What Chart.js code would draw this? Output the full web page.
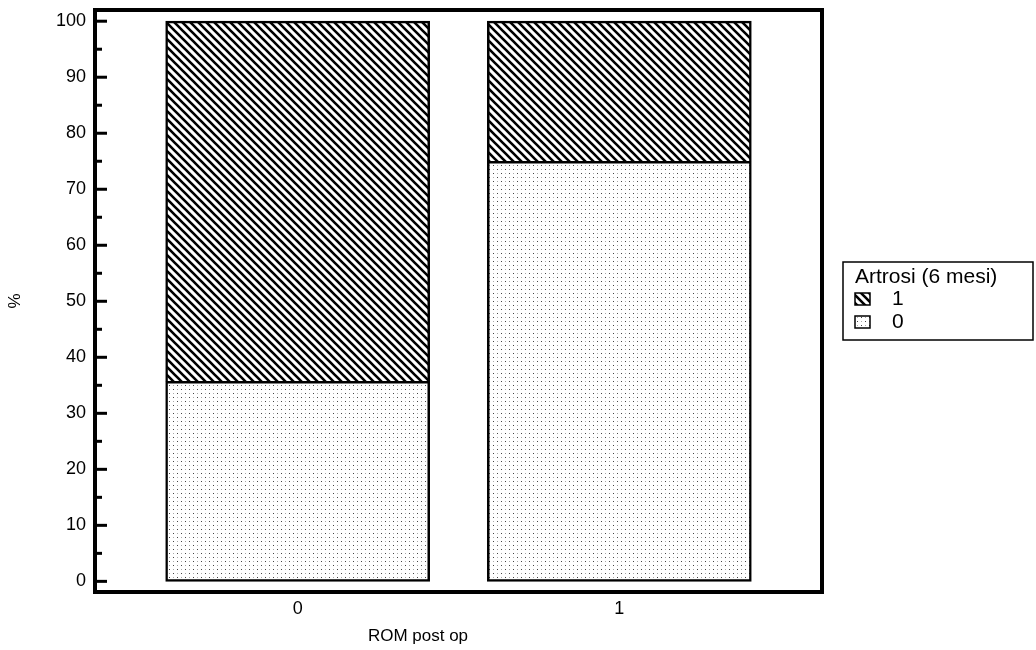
<!DOCTYPE html>
<html>
<head>
<meta charset="utf-8">
<script src="https://cdn.jsdelivr.net/npm/chart.js@4/dist/chart.umd.min.js"></script>
<style>
  html, body { margin: 0; padding: 0; background: #fff; }
  #wrap { width: 1036px; height: 650px; }
</style>
</head>
<body>
<div id="wrap"><canvas id="chart"></canvas></div>
<script>
// Data
const categories = ['0', '1'];            // ROM post op
const artrosi0 = [35.7, 75];              // Artrosi (6 mesi) = 0, % of group
const artrosi1 = [64.3, 25];              // Artrosi (6 mesi) = 1, % of group
const yTicks = [0, 5, 10, 15, 20, 25, 30, 35, 40, 45, 50, 55, 60, 65, 70, 75, 80, 85, 90, 95, 100];

const FONT = "'Liberation Sans', Arial, sans-serif";

// Hatch pattern for "1"
function hatchPattern() {
    const c = document.createElement('canvas');
    c.width = 8; c.height = 8;
    const g = c.getContext('2d');
    g.fillStyle = '#fff';
    g.fillRect(0, 0, 8, 8);
    g.strokeStyle = '#000';
    g.lineWidth = 2.6;
    g.beginPath();
    g.moveTo(-8, -8); g.lineTo(16, 16);
    g.moveTo(0, -8); g.lineTo(16, 8);
    g.moveTo(-8, 0); g.lineTo(8, 16);
    g.stroke();
    return g.createPattern(c, 'repeat');
}

// Dotted pattern for "0"
function dotPattern() {
    const c = document.createElement('canvas');
    c.width = 8; c.height = 8;
    const g = c.getContext('2d');
    g.fillStyle = '#fff';
    g.fillRect(0, 0, 8, 8);
    g.fillStyle = '#444';
    g.fillRect(1, 1, 1, 1);
    g.fillRect(5, 5, 1, 1);
    g.fillStyle = '#aaa';
    g.fillRect(5, 1, 1, 1);
    g.fillRect(1, 5, 1, 1);
    return g.createPattern(c, 'repeat');
}

// Frame, inward y ticks, x title and boxed legend
const framePlugin = {
    id: 'frame',
    afterDraw(chart) {
        const ctx = chart.ctx;
        const a = chart.chartArea;
        const y = chart.scales.y;
        ctx.save();
        ctx.strokeStyle = '#000';
        ctx.lineWidth = 3;
        y.ticks.forEach(t => {
            const py = y.getPixelForValue(t.value);
            const len = t.value % 10 === 0 ? 12 : 7;
            ctx.beginPath();
            ctx.moveTo(a.left, py);
            ctx.lineTo(a.left + len, py);
            ctx.stroke();
        });
        ctx.lineWidth = 4;
        ctx.strokeRect(a.left, a.top, a.right - a.left, a.bottom - a.top);

        // x axis title (sits a bit left of the plot centre)
        ctx.fillStyle = '#000';
        ctx.font = '17px ' + FONT;
        ctx.textAlign = 'center';
        ctx.textBaseline = 'middle';
        ctx.fillText('ROM post op', a.left + 323, a.bottom + 44);

        // legend
        const lx = a.right + 21, ly = (a.top + a.bottom) / 2 - 39;
        const lw = 190, lh = 78;
        ctx.lineWidth = 1.5;
        ctx.strokeRect(lx, ly, lw, lh);
        ctx.font = '21px ' + FONT;
        ctx.textAlign = 'left';
        ctx.fillText('Artrosi (6 mesi)', lx + 12, ly + 15);
        const items = chart.data.datasets.slice().reverse();
        items.forEach((ds, i) => {
            const ry = ly + 37 + i * 23;
            ctx.fillStyle = ds.backgroundColor;
            ctx.fillRect(lx + 12, ry - 6, 15, 12);
            ctx.lineWidth = 1.5;
            ctx.strokeRect(lx + 12, ry - 6, 15, 12);
            ctx.fillStyle = '#000';
            ctx.fillText(ds.label, lx + 49, ry);
        });
        ctx.restore();
    }
};

const ctx = document.getElementById('chart').getContext('2d');
new Chart(ctx, {
    type: 'bar',
    data: {
        datasets: [
            {
                label: '0',
                data: categories.map((c, i) => ({ x: i, y: artrosi0[i] })),
                backgroundColor: dotPattern(),
                borderColor: '#000',
                borderWidth: 2.5,
                borderSkipped: false,
                barThickness: 264
            },
            {
                label: '1',
                data: categories.map((c, i) => ({ x: i, y: artrosi1[i] })),
                backgroundColor: hatchPattern(),
                borderColor: '#000',
                borderWidth: 2.5,
                borderSkipped: 'start',
                barThickness: 264
            }
        ]
    },
    options: {
        responsive: true,
        maintainAspectRatio: false,
        animation: false,
        layout: { padding: { top: 10, right: 214, left: 0, bottom: 0 } },
        plugins: {
            legend: { display: false },
            tooltip: { enabled: false }
        },
        scales: {
            x: {
                type: 'linear',
                stacked: true,
                offset: false,
                min: -0.63,
                max: 1.63,
                afterBuildTicks: s => { s.ticks = categories.map((c, i) => ({ value: i })); },
                afterFit: s => { s.height = 58; s.paddingLeft = 0; s.paddingRight = 0; },
                grid: { display: false, drawTicks: false, offset: false },
                border: { display: false },
                ticks: {
                    padding: 6,
                    color: '#000',
                    font: { family: FONT, size: 18 },
                    callback: v => categories[v]
                }
            },
            y: {
                stacked: true,
                min: -1.9,
                max: 102,
                afterBuildTicks: s => { s.ticks = yTicks.map(v => ({ value: v })); },
                afterFit: s => { s.width = 95; s.paddingTop = 0; s.paddingBottom = 0; },
                grid: { display: false, drawTicks: false },
                border: { display: false },
                ticks: {
                    padding: 9,
                    color: '#000',
                    font: { family: FONT, size: 18 },
                    callback: v => (v % 10 === 0 ? String(v) : '')
                },
                title: {
                    display: true,
                    text: '%',
                    color: '#000',
                    font: { family: FONT, size: 17 },
                    padding: { top: 5, bottom: 0 }
                }
            }
        }
    },
    plugins: [framePlugin]
});
</script>
</body>
</html>
